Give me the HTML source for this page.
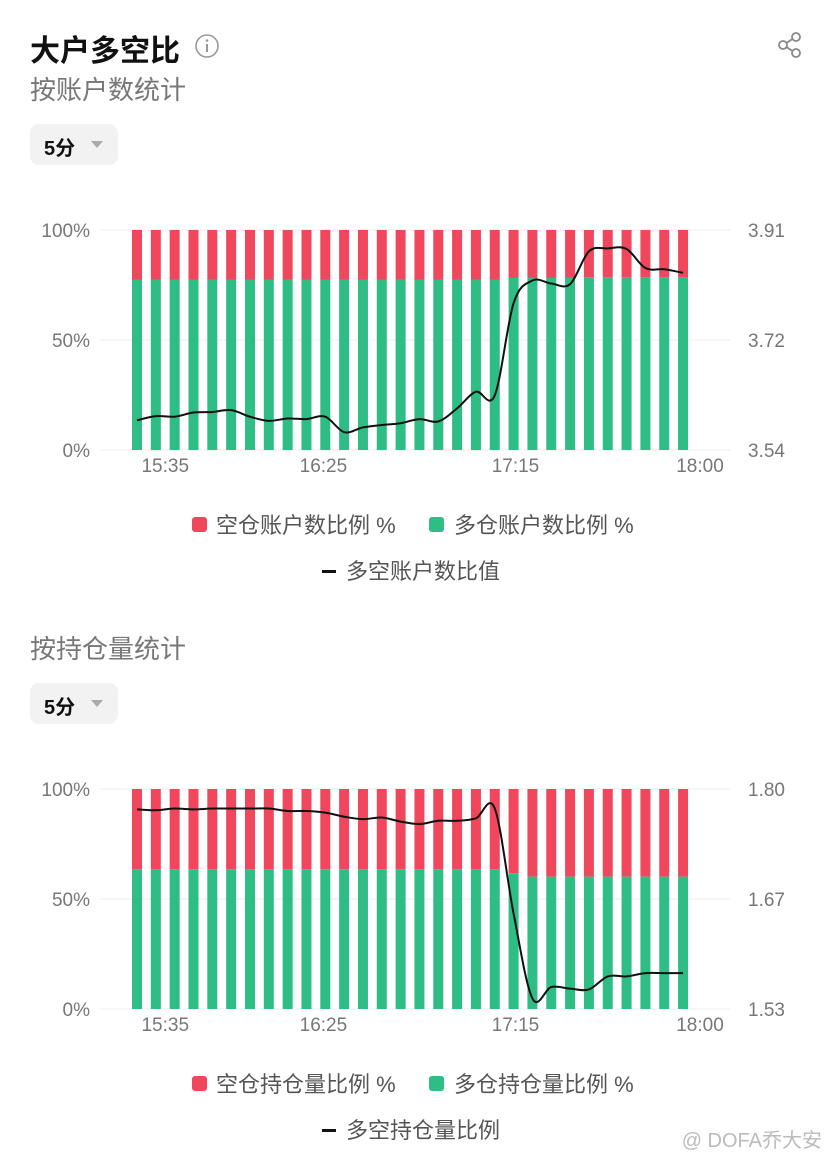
<!DOCTYPE html>
<html><head><meta charset="utf-8">
<style>
body{margin:0;width:830px;height:1164px;background:#fff;font-family:"Liberation Sans","Noto Sans CJK SC",sans-serif;overflow:hidden;position:relative}
.abs{position:absolute}
.title{left:30px;top:26px;font-size:30px;font-weight:bold;color:#111}
.sub{left:30px;font-size:26px;color:#777}
.btn{left:30px;width:88px;height:41px;background:#f2f2f2;border-radius:9px}
.btn span{position:absolute;left:14px;top:8px;font-size:20px;font-weight:bold;color:#111}
.btn i{position:absolute;left:61px;top:17px;width:0;height:0;border-left:6px solid transparent;border-right:6px solid transparent;border-top:7px solid #aaa}
svg text{font-family:"Liberation Sans","Noto Sans CJK SC",sans-serif}
</style></head><body>
<div class="abs title">大户多空比</div>
<svg class="abs" style="left:194px;top:33px" width="26" height="26"><circle cx="13" cy="13" r="11" fill="none" stroke="#999" stroke-width="1.6"/><rect x="12" y="11" width="2" height="8" fill="#999"/><circle cx="13" cy="7.5" r="1.3" fill="#999"/></svg>
<svg class="abs" style="left:776px;top:31px" width="28" height="28"><g fill="none" stroke="#888" stroke-width="1.8"><circle cx="20" cy="6" r="4"/><circle cx="7" cy="14" r="4"/><circle cx="20" cy="22" r="4"/><path d="M10.5 12 L16.5 8 M10.5 16 L16.5 20"/></g></svg>
<div class="abs sub" style="top:70px">按账户数统计</div>
<div class="abs btn" style="top:124px"><span>5分</span><i></i></div>
<div class="abs sub" style="top:629px">按持仓量统计</div>
<div class="abs btn" style="top:683px"><span>5分</span><i></i></div>
<svg id="c1" class="abs" style="left:0;top:0" width="830" height="1164"></svg>
<div class="abs" style="right:8px;top:1124px;font-size:20px;color:#bbb">@ DOFA乔大安</div>
<script>
const xLabels=["15:35","16:25","17:15","18:00"];
const xLabelIdx=[1.5,9.9,20.1,29.9];
const green1=[77.5,77.5,77.5,77.5,77.5,77.5,77.5,77.5,77.5,77.5,77.5,77.5,77.5,77.5,77.5,77.5,77.5,77.5,77.5,77.5,78.2,78.2,78.2,78.2,78.6,78.6,78.6,78.6,78.6,78.6];
const ratio1=[3.590,3.597,3.596,3.603,3.604,3.607,3.596,3.589,3.593,3.592,3.596,3.570,3.578,3.582,3.585,3.592,3.588,3.610,3.638,3.632,3.787,3.825,3.820,3.819,3.874,3.879,3.878,3.846,3.844,3.838];
const rTicks1=["3.91","3.72","3.54"];
const green2=[63.5,63.5,63.5,63.5,63.5,63.5,63.5,63.5,63.5,63.5,63.5,63.5,63.5,63.5,63.5,63.5,63.5,63.5,63.5,63.5,61.7,60.1,60.1,60.1,60.1,60.1,60.1,60.1,60.1,60.1];
const ratio2=[1.775,1.774,1.776,1.775,1.776,1.776,1.776,1.776,1.773,1.773,1.771,1.766,1.763,1.765,1.760,1.757,1.761,1.761,1.764,1.776,1.647,1.543,1.557,1.555,1.554,1.570,1.570,1.574,1.574,1.574];
const rTicks2=["1.80","1.67","1.53"];
const lTicks=["100%","50%","0%"];
const NS="http://www.w3.org/2000/svg";
const svg=document.getElementById('c1');
function mk(t,a,p){const e=document.createElementNS(NS,t);for(const k in a)e.setAttribute(k,a[k]);(p||svg).appendChild(e);return e;}
function chart(top,green,ratio,rMin,rMax,rTicks,legR,legG,legL,ly){
  const bottom=top+220,x0=137,step=18.83;
  const xS=i=>x0+i*step;
  const yP=v=>bottom-v/100*220;
  const yR=v=>bottom-(v-rMin)/(rMax-rMin)*220;
  for(let k=0;k<3;k++){const y=top+k*110;
    const g=mk('line',{x1:100,x2:730,y1:y,y2:y,stroke:'#eee'});
    
    const t=mk('text',{x:90,y:y+7,'text-anchor':'end','font-size':19,fill:'#777'});t.textContent=lTicks[k];
    
    const r=mk('text',{x:748,y:y+7,'font-size':19,fill:'#777'});r.textContent=rTicks[k];
    }
  green.forEach((g,i)=>{
    const a=mk('rect',{x:xS(i)-5,y:top,width:10,height:yP(g)-top,fill:'#f0475c'});
    
    const b=mk('rect',{x:xS(i)-5,y:yP(g),width:10,height:bottom-yP(g),fill:'#2ebd85'});
    });
  const pts=ratio.map((v,i)=>[xS(i),yR(v)]);
  let d='M'+pts[0][0]+' '+pts[0][1];
  for(let i=0;i<pts.length-1;i++){const p0=pts[Math.max(0,i-1)],p1=pts[i],p2=pts[i+1],p3=pts[Math.min(pts.length-1,i+2)];
    d+=` C${p1[0]+(p2[0]-p0[0])/6} ${p1[1]+(p2[1]-p0[1])/6} ${p2[0]-(p3[0]-p1[0])/6} ${p2[1]-(p3[1]-p1[1])/6} ${p2[0]} ${p2[1]}`;}
  const ln=mk('path',{d:d,fill:'none',stroke:'#111','stroke-width':2});
  
  xLabels.forEach((l,k)=>{const t=mk('text',{x:xS(xLabelIdx[k]),y:bottom+22,'text-anchor':'middle','font-size':19,fill:'#777'});t.textContent=l;
    });
  const r1=mk('rect',{x:192,y:ly-9,width:15,height:15,rx:3,fill:'#f0475c'});
  
  const t1=mk('text',{x:216,y:ly+7,'font-size':22,fill:'#555'});t1.textContent=legR;
  
  const r2=mk('rect',{x:429,y:ly-9,width:15,height:15,rx:3,fill:'#2ebd85'});
  
  const t2=mk('text',{x:454,y:ly+7,'font-size':22,fill:'#555'});t2.textContent=legG;
  
  const r3=mk('rect',{x:322,y:ly+44,width:14,height:3,fill:'#111'});
  
  const t3=mk('text',{x:346,y:ly+53,'font-size':22,fill:'#555'});t3.textContent=legL;
  
}
chart(230,green1,ratio1,3.54,3.91,rTicks1,"空仓账户数比例 %","多仓账户数比例 %","多空账户数比值",526);
chart(789,green2,ratio2,1.53,1.80,rTicks2,"空仓持仓量比例 %","多仓持仓量比例 %","多空持仓量比例",1085);
</script>
</body></html>
